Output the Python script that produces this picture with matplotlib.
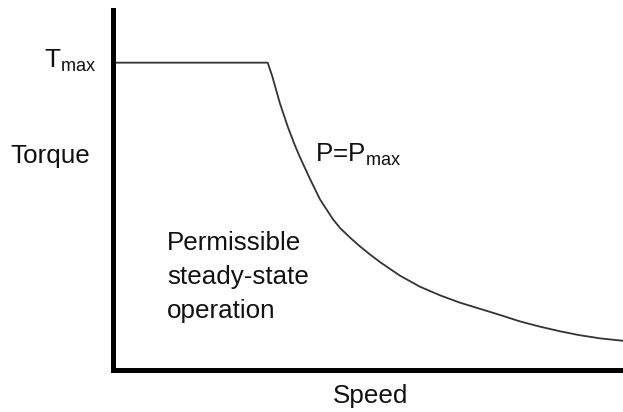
import matplotlib
matplotlib.use("Agg")
import matplotlib.pyplot as plt

plt.rcParams["font.family"] = ["Liberation Sans", "DejaVu Sans"]
plt.rcParams["mathtext.fontset"] = "custom"
plt.rcParams["mathtext.rm"] = "Liberation Sans"
plt.rcParams["mathtext.it"] = "Liberation Sans"

# Torque-speed envelope, normalised to base speed and maximum torque
speed = [0.0, 1.000, 1.028, 1.079, 1.131, 1.176, 1.208, 1.273, 1.337, 1.421,
         1.466, 1.530, 1.595, 1.659, 1.724, 1.852, 1.981, 2.110, 2.239,
         2.368, 2.497, 2.626, 2.755, 2.883, 3.012, 3.141, 3.289]
torque = [1.0, 1.000, 0.958, 0.867, 0.789, 0.730, 0.692, 0.621, 0.555, 0.490,
          0.462, 0.431, 0.402, 0.376, 0.351, 0.307, 0.271, 0.243, 0.219,
          0.199, 0.179, 0.158, 0.141, 0.126, 0.113, 0.103, 0.095]
T_MAX = 1.0
SPEED_LIMIT = 3.289
TORQUE_LIMIT = 1.173

W, H = 623, 412
fig = plt.figure(figsize=(W / 100, H / 100), dpi=100)
ax = fig.add_axes([112.5 / W, 42 / H, (W - 112.5) / W, (370 - 9.5) / H])

ax.plot(speed, torque, color="#333333", lw=1.3, solid_joinstyle="round",
        clip_on=False)
ax.set_xlim(0, SPEED_LIMIT)
ax.set_ylim(0, TORQUE_LIMIT)

for side in ("top", "right"):
    ax.spines[side].set_visible(False)
for side in ("left", "bottom"):
    ax.spines[side].set_linewidth(3.6)
    ax.spines[side].set_color("black")
    ax.spines[side].set_capstyle("projecting")
ax.set_xticks([])
ax.set_yticks([])

FS = 18.7
TXT = "#111111"

ax.annotate(r"T$_{\mathrm{max}}$", xy=(0, T_MAX), xycoords=("axes fraction", "data"),
            xytext=(-11.5, -4.0), textcoords="offset points",
            ha="right", va="baseline", fontsize=FS, color=TXT)

fig.text(10 / W, 1 - 163 / H, "Torque", ha="left", va="baseline",
         fontsize=FS, color=TXT)
fig.text(371 / W, 1 - 403 / H, "Speed", ha="center", va="baseline",
         fontsize=FS, color=TXT)
fig.text(315 / W, 1 - 162 / H, r"P=P$_{\mathrm{max}}$", ha="left",
         va="baseline", fontsize=FS, color=TXT)
fig.text(167 / W, 1 - 231 / H, "Permissible\nsteady-state\noperation",
         ha="left", va="top", fontsize=FS, color=TXT, linespacing=1.52)

fig.savefig("out.png", dpi=100)
